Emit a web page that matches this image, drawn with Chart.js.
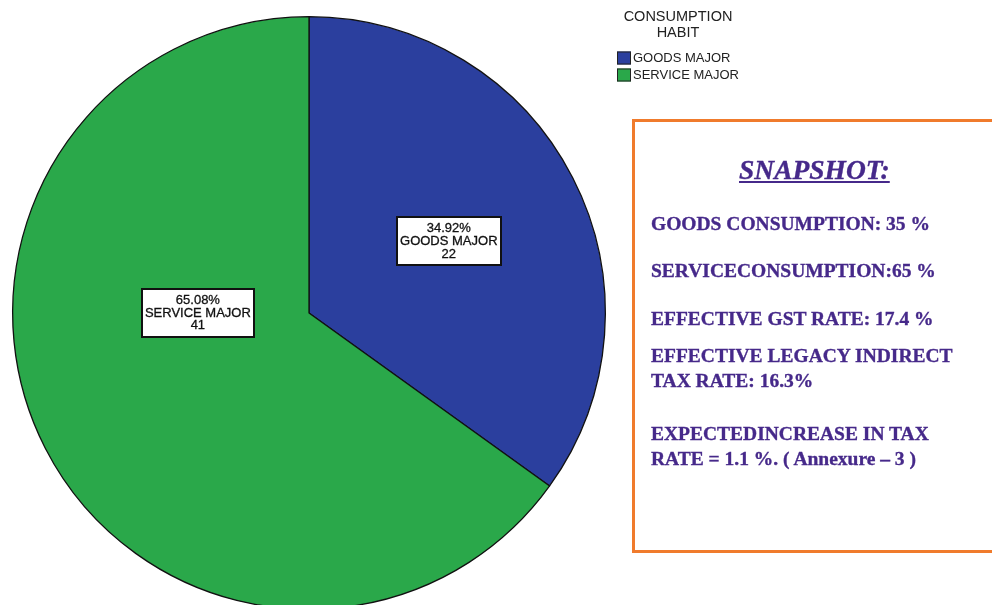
<!DOCTYPE html>
<html>
<head>
<meta charset="utf-8">
<script src="https://cdn.jsdelivr.net/npm/chart.js@4.4.0/dist/chart.umd.min.js"></script>
<style>
  html, body { margin: 0; padding: 0; background: #fff; overflow: hidden; }
  #wrap { position: relative; width: 992px; height: 605px; overflow: hidden; background: #fff; }
  #pie { position: absolute; left: 0; top: 0; }
  #snapshot {
    position: absolute; left: 632px; top: 119px; width: 400px; height: 434px;
    border: 3px solid #f07b2c; box-sizing: border-box;
  }
  .line {
    position: absolute; left: 651px; white-space: nowrap;
    font: bold 19.5px "Liberation Serif", "Times New Roman", serif;
    line-height: 20px; color: #46298a; -webkit-text-stroke: 0.35px #46298a;
  }
  .title {
    left: 739px; font-size: 27.5px; font-style: italic; text-decoration: underline;
    text-decoration-thickness: 2px; text-underline-offset: 2px;
  }
</style>
</head>
<body>
<div id="wrap">
  <canvas id="pie" width="992" height="620"></canvas>
  <div id="snapshot"></div>
  <div class="line title" style="top:160px">SNAPSHOT:</div>
  <div class="line" style="top:214px">GOODS CONSUMPTION: 35 %</div>
  <div class="line" style="top:261px">SERVICECONSUMPTION:65 %</div>
  <div class="line" style="top:309px">EFFECTIVE GST RATE: 17.4 %</div>
  <div class="line" style="top:346px">EFFECTIVE LEGACY INDIRECT</div>
  <div class="line" style="top:371px">TAX RATE: 16.3%</div>
  <div class="line" style="top:424px">EXPECTEDINCREASE IN TAX</div>
  <div class="line" style="top:449px">RATE = 1.1 %. ( Annexure – 3 )</div>
</div>
<script>
const categories = ["GOODS MAJOR", "SERVICE MAJOR"];
const counts = [22, 41];
const sliceColors = ["#2b3f9e", "#2aa84a"];
const legendTitle = ["CONSUMPTION", "HABIT"];

// boxed "pct / name / count" labels inside each slice
const sliceLabels = {
  id: "sliceLabels",
  afterDatasetsDraw(chart, args, opts) {
    const ctx = chart.ctx;
    const data = chart.data.datasets[0].data;
    const total = data.reduce((a, b) => a + b, 0);
    const meta = chart.getDatasetMeta(0);
    ctx.save();
    ctx.font = opts.font;
    ctx.textAlign = "center";
    ctx.textBaseline = "middle";
    meta.data.forEach((arc, i) => {
      const a = opts.anchors[i];
      const ang = a.angle == null
        ? (arc.startAngle + arc.endAngle) / 2
        : (a.angle - 90) * Math.PI / 180;
      const cx = arc.x + Math.cos(ang) * arc.outerRadius * a.dist;
      const cy = arc.y + Math.sin(ang) * arc.outerRadius * a.dist;
      const lines = [
        (data[i] / total * 100).toFixed(2) + "%",
        chart.data.labels[i],
        String(data[i])
      ];
      const w = Math.max(...lines.map(t => ctx.measureText(t).width)) + 6;
      const h = lines.length * opts.lineHeight + 10;
      ctx.fillStyle = "#fff";
      ctx.fillRect(cx - w / 2, cy - h / 2, w, h);
      ctx.strokeStyle = "#111";
      ctx.lineWidth = 2;
      ctx.strokeRect(Math.round(cx - w / 2), Math.round(cy - h / 2), Math.round(w), Math.round(h));
      ctx.fillStyle = "#111";
      ctx.strokeStyle = "#111";
      ctx.lineWidth = 0.3;
      lines.forEach((t, k) => {
        const ty = cy + (k - 1) * opts.lineHeight;
        ctx.fillText(t, cx, ty);
        ctx.strokeText(t, cx, ty);
      });
    });
    ctx.restore();
  }
};

// legend block with a two-line title, top right of the pie
const sideLegend = {
  id: "sideLegend",
  afterDraw(chart, args, opts) {
    const ctx = chart.ctx;
    ctx.save();
    ctx.fillStyle = "#222";
    ctx.textAlign = "center";
    ctx.textBaseline = "middle";
    ctx.font = '14.5px "Liberation Sans", Arial, sans-serif';
    legendTitle.forEach((t, k) => ctx.fillText(t, opts.titleX, opts.titleY + k * 15.5));
    ctx.textAlign = "left";
    ctx.font = '13px "Liberation Sans", Arial, sans-serif';
    chart.data.labels.forEach((label, i) => {
      const y = opts.itemY + i * 17;
      ctx.fillStyle = chart.data.datasets[0].backgroundColor[i];
      ctx.fillRect(opts.boxX, y - 6.5, 14, 13);
      ctx.strokeStyle = "#222";
      ctx.lineWidth = 1;
      ctx.strokeRect(opts.boxX + 0.5, y - 6, 13, 12);
      ctx.fillStyle = "#222";
      ctx.fillText(label, opts.boxX + 16, y + 0.5);
    });
    ctx.restore();
  }
};

new Chart(document.getElementById("pie"), {
  type: "pie",
  data: {
    labels: categories,
    datasets: [{
      data: counts,
      backgroundColor: sliceColors,
      borderColor: "#111",
      borderWidth: 1.3
    }]
  },
  options: {
    responsive: false,
    animation: false,
    events: [],
    layout: { padding: { left: 12, right: 386, top: 16, bottom: 10 } },
    plugins: {
      legend: { display: false },
      tooltip: { enabled: false },
      sliceLabels: {
        font: '13px "Liberation Sans", Arial, sans-serif',
        lineHeight: 12.7,
        anchors: [{ angle: null, dist: 0.53 }, { angle: 270, dist: 0.375 }]
      },
      sideLegend: { titleX: 678, titleY: 17, boxX: 617, itemY: 58 }
    }
  },
  plugins: [sliceLabels, sideLegend]
});
</script>
</body>
</html>
